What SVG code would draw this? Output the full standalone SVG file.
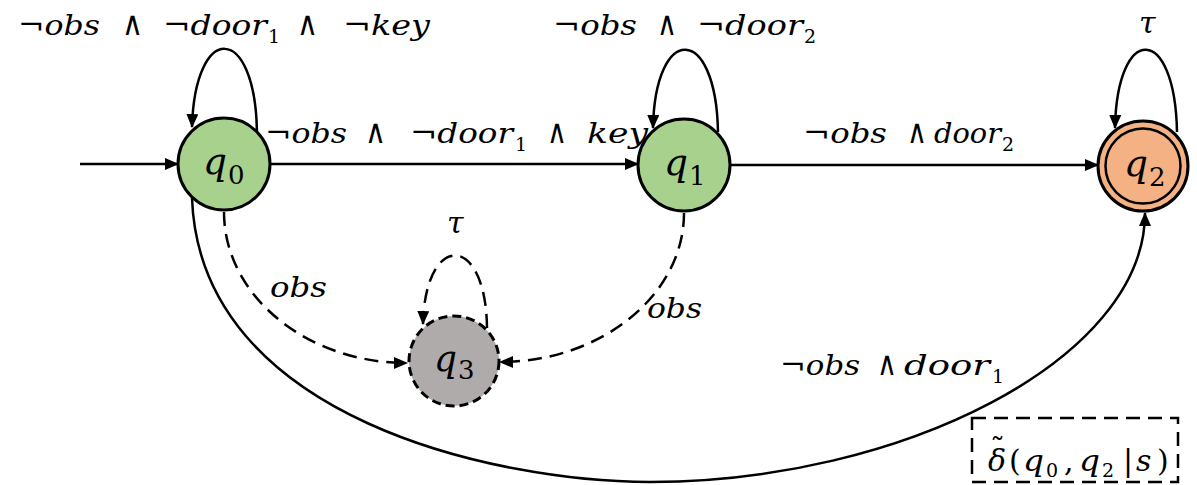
<svg xmlns="http://www.w3.org/2000/svg" width="1197" height="485" viewBox="0 0 1197 485">
  <defs>
    <marker id="arr" viewBox="0 0 14 12" refX="13" refY="6" markerWidth="14" markerHeight="12" markerUnits="userSpaceOnUse" orient="auto">
      <path d="M0,0 L14,6 L0,12 z" fill="#000" stroke="none"/>
    </marker>
    <style>
      .edge { fill: none; stroke: #000; stroke-width: 2.5; }
      .dash { stroke-dasharray: 14 8; }
      .node { stroke: #000; stroke-width: 3; }
      .lbl { font-family: "DejaVu Serif", "Liberation Serif", serif; font-size: 27px; font-style: italic; fill: #000; }
      .op { font-style: normal; }
      .and { font-style: normal; font-size: 33px; }
      .sub { font-style: normal; font-size: 19px; }
      .ql { font-family: "DejaVu Serif", "Liberation Serif", serif; font-size: 38px; font-style: italic; fill: #000; }
      .qs { font-style: normal; font-size: 26px; }
      .big { font-size: 30px; }
    </style>
  </defs>

  <g id="connectors">
    <path class="edge" d="M80,164 L178,164" marker-end="url(#arr)"/>
    <path class="edge" d="M270,164 L638,164" marker-end="url(#arr)"/>
    <path class="edge" d="M730,165 L1098,165" marker-end="url(#arr)"/>
    <path class="edge" d="M257,132 C255,22 195,22 192,127" marker-end="url(#arr)"/>
    <path class="edge" d="M718,132 C716,23 655,23 653,128" marker-end="url(#arr)"/>
    <path class="edge" d="M1177,132 C1175,23 1117,23 1115,128" marker-end="url(#arr)"/>
    <path class="edge dash" d="M487,328 C486,232 425,232 423,324" marker-end="url(#arr)"/>
    <path class="edge dash" d="M224,212 C224,295 306,363 407,363" marker-end="url(#arr)"/>
    <path class="edge dash" d="M684,213 C684,295 601,362 500,362" marker-end="url(#arr)"/>
    <path class="edge" d="M192,198 C200,420 500,482 650,482 C900,482 1145,360 1145,213" marker-end="url(#arr)"/>
  </g>

  <g id="q0">
    <circle class="node" cx="224" cy="164" r="46" fill="#A9D18E"/>
    <text class="ql" y="174"><tspan x="203" textLength="24" lengthAdjust="spacingAndGlyphs">q</tspan><tspan class="qs" x="228" dy="10">0</tspan></text>
  </g>
  <g id="q1">
    <circle class="node" cx="684" cy="165" r="46" fill="#A9D18E"/>
    <text class="ql" y="175"><tspan x="664" textLength="24" lengthAdjust="spacingAndGlyphs">q</tspan><tspan class="qs" x="689" dy="10">1</tspan></text>
  </g>
  <g id="q2">
    <circle class="node" cx="1143" cy="166" r="45" fill="#F4B183"/>
    <circle cx="1143" cy="166" r="37.5" fill="none" stroke="#000" stroke-width="2.5"/>
    <text class="ql" y="176"><tspan x="1124" textLength="24" lengthAdjust="spacingAndGlyphs">q</tspan><tspan class="qs" x="1149" dy="10">2</tspan></text>
  </g>
  <g id="q3">
    <circle class="node" cx="454" cy="361" r="45" fill="#AFABAB" stroke-dasharray="9 5"/>
    <text class="ql" y="371"><tspan x="434" textLength="23" lengthAdjust="spacingAndGlyphs">q</tspan><tspan class="qs" x="458" dy="8">3</tspan></text>
  </g>

  <g id="labels">
    <text class="lbl" y="35"><tspan x="18" textLength="82" lengthAdjust="spacingAndGlyphs">¬obs</tspan><tspan class="and" x="122" textLength="21" lengthAdjust="spacingAndGlyphs">∧</tspan><tspan x="163" textLength="104" lengthAdjust="spacingAndGlyphs">¬door</tspan><tspan class="sub" x="268" dy="8">1</tspan><tspan class="and" x="297" dy="-8" textLength="21" lengthAdjust="spacingAndGlyphs">∧</tspan><tspan x="343" textLength="87" lengthAdjust="spacingAndGlyphs">¬key</tspan></text>
    <text class="lbl" y="35"><tspan x="553" textLength="84" lengthAdjust="spacingAndGlyphs">¬obs</tspan><tspan class="and" x="657" textLength="20" lengthAdjust="spacingAndGlyphs">∧</tspan><tspan x="697" textLength="106" lengthAdjust="spacingAndGlyphs">¬door</tspan><tspan class="sub" x="804" dy="8">2</tspan></text>
    <text class="lbl big" x="1139" y="33">τ</text>
    <text class="lbl" y="143"><tspan x="265" textLength="82" lengthAdjust="spacingAndGlyphs">¬obs</tspan><tspan class="and" x="365" textLength="21" lengthAdjust="spacingAndGlyphs">∧</tspan><tspan x="410" textLength="103" lengthAdjust="spacingAndGlyphs">¬door</tspan><tspan class="sub" x="515" dy="8">1</tspan><tspan class="and" x="547" dy="-8" textLength="20" lengthAdjust="spacingAndGlyphs">∧</tspan><tspan x="587" textLength="61" lengthAdjust="spacingAndGlyphs">key</tspan></text>
    <text class="lbl" y="143"><tspan x="803" textLength="84" lengthAdjust="spacingAndGlyphs">¬obs</tspan><tspan class="and" x="907" textLength="20" lengthAdjust="spacingAndGlyphs">∧</tspan><tspan x="934" textLength="67" lengthAdjust="spacingAndGlyphs">door</tspan><tspan class="sub" x="1002" dy="8">2</tspan></text>
    <text class="lbl big" x="447" y="233">τ</text>
    <text class="lbl" x="270" y="297" textLength="57" lengthAdjust="spacingAndGlyphs">obs</text>
    <text class="lbl" x="647" y="318" textLength="55" lengthAdjust="spacingAndGlyphs">obs</text>
    <text class="lbl" y="375"><tspan x="780" textLength="80" lengthAdjust="spacingAndGlyphs">¬obs</tspan><tspan class="and" x="877" textLength="20" lengthAdjust="spacingAndGlyphs">∧</tspan><tspan x="904" textLength="86" lengthAdjust="spacingAndGlyphs">door</tspan><tspan class="sub" x="992" dy="8">1</tspan></text>
  </g>

  <g id="delta-box">
    <rect x="972" y="418" width="206" height="64" fill="none" stroke="#000" stroke-width="2.5" stroke-dasharray="14 8"/>
    <text class="lbl" y="471" style="font-size:30px"><tspan x="988">δ</tspan><tspan class="op" x="990" dy="-12">˜</tspan><tspan class="op" x="1009" dy="12">(</tspan><tspan x="1023" textLength="21" lengthAdjust="spacingAndGlyphs">q</tspan><tspan class="sub" x="1046" dy="6">0</tspan><tspan class="op" x="1064" dy="-6">,</tspan><tspan x="1079" textLength="21" lengthAdjust="spacingAndGlyphs">q</tspan><tspan class="sub" x="1102" dy="6">2</tspan><tspan class="op" x="1123" dy="-6">|</tspan><tspan x="1136">s</tspan><tspan class="op" x="1157">)</tspan></text>
  </g>
</svg>
